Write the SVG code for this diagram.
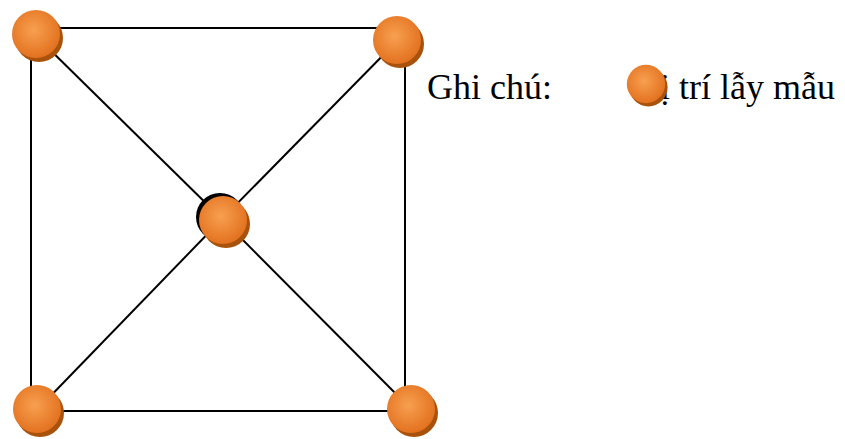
<svg xmlns="http://www.w3.org/2000/svg" width="845" height="439" viewBox="0 0 845 439">
<defs>
<radialGradient id="g" cx="0.45" cy="0.42" r="0.6">
<stop offset="0" stop-color="#F7A050"/>
<stop offset="1" stop-color="#E2701E"/>
</radialGradient>
<g id="dot">
<circle cx="3" cy="4" r="24" fill="#A9520C"/>
<circle cx="0" cy="0" r="24" fill="url(#g)"/>
</g>
</defs>
<style>
.ln{stroke:#000;stroke-width:2;fill:none}
.t{font-family:"Liberation Serif","Times New Roman",serif;font-size:36px;fill:#000}
</style>
<g id="connectors">
<line class="ln" x1="31" y1="28" x2="405" y2="28"/>
<line class="ln" x1="31" y1="28" x2="31" y2="411"/>
<line class="ln" x1="405" y1="28" x2="405" y2="411"/>
<line class="ln" x1="31" y1="411" x2="405" y2="411"/>
<line class="ln" x1="36" y1="36" x2="222" y2="219"/>
<line class="ln" x1="398" y1="40" x2="222" y2="219"/>
<line class="ln" x1="37" y1="410" x2="222" y2="219"/>
<line class="ln" x1="412" y1="410" x2="222" y2="219"/>
</g>
<g id="n-tl"><use href="#dot" x="36" y="34"/></g>
<g id="n-tr"><use href="#dot" x="397" y="40"/></g>
<g id="n-c"><circle cx="220" cy="217" r="24" fill="#000"/><use href="#dot" x="223" y="220"/></g>
<g id="n-bl"><use href="#dot" x="37" y="409"/></g>
<g id="n-br"><use href="#dot" x="411" y="409"/></g>
<g id="legend">
<text class="t" x="427" y="99">Ghi chú:</text>
<text class="t" x="835" y="99" text-anchor="end">Vị trí lẫy mẫu</text>
<g transform="translate(646,84) scale(0.8)"><use href="#dot"/></g>
</g>
</svg>
